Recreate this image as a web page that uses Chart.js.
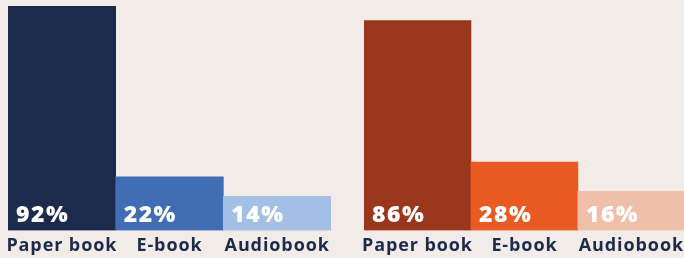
<!DOCTYPE html>
<html>
<head>
<meta charset="utf-8">
<script src="https://cdn.jsdelivr.net/npm/chart.js@4/dist/chart.umd.min.js"></script>
<style>
  html, body { margin: 0; padding: 0; background: #f3ebe8; }
  body { width: 684px; height: 258px; position: relative; overflow: hidden; }
  .box { position: absolute; top: 0; height: 262px; }
  #leftBox { left: 0; width: 342px; }
  #rightBox { left: 342px; width: 347px; }
</style>
</head>
<body>
<div class="box" id="leftBox"><canvas id="leftChart"></canvas></div>
<div class="box" id="rightBox"><canvas id="rightChart"></canvas></div>
<script>
const categories = ['Paper book', 'E-book', 'Audiobook'];
const leftValues = [92, 22, 14];
const rightValues = [86, 28, 16];
const leftColors = ['#1c2b4b', '#406db3', '#a3bfe6'];
const rightColors = ['#9a361b', '#e95b22', '#efbfaa'];

const labelFont = '"Open Sans", sans-serif';

// letter spacing for tick labels (set before measuring and drawing)
const spacing = {
    id: 'spacing',
    beforeLayout(chart) { chart.ctx.letterSpacing = '0.9px'; },
    beforeDraw(chart) { chart.ctx.letterSpacing = '0.9px'; }
};

// white percentage inside the bottom of each bar
const valueLabels = {
    id: 'valueLabels',
    afterDatasetsDraw(chart) {
        const ctx = chart.ctx;
        const ds = chart.data.datasets[0];
        ctx.save();
        ctx.letterSpacing = '1.5px';
        ctx.font = '800 23px ' + labelFont;
        ctx.fillStyle = '#ffffff';
        ctx.textAlign = 'left';
        ctx.textBaseline = 'alphabetic';
        chart.getDatasetMeta(0).data.forEach((bar, i) => {
            const left = bar.x - bar.width / 2;
            ctx.fillText(ds.data[i] + '%', left + 8, bar.base - 8);
        });
        ctx.restore();
    }
};

function makeChart(id, values, colors, pad) {
    return new Chart(document.getElementById(id), {
        type: 'bar',
        data: {
            labels: categories,
            datasets: [{
                data: values,
                backgroundColor: colors,
                borderWidth: 0,
                barPercentage: 1,
                categoryPercentage: 1
            }]
        },
        options: {
            responsive: true,
            maintainAspectRatio: false,
            animation: false,
            layout: { padding: pad },
            scales: {
                x: {
                    grid: { display: false, drawTicks: false },
                    border: { display: false },
                    ticks: {
                        color: '#1c2b4a',
                        padding: 5,
                        maxRotation: 0,
                        autoSkip: false,
                        font: { family: labelFont, size: 18, weight: 'bold', lineHeight: 1.2 }
                    }
                },
                y: { display: false, min: 0, max: 92 }
            },
            plugins: { legend: { display: false }, tooltip: { enabled: false } }
        },
        plugins: [spacing, valueLabels]
    });
}

makeChart('leftChart', leftValues, leftColors, { left: 8, right: 11, top: 6, bottom: 0 });
makeChart('rightChart', rightValues, rightColors, { left: 22, right: 0, top: 6, bottom: 0 });
</script>
</body>
</html>
